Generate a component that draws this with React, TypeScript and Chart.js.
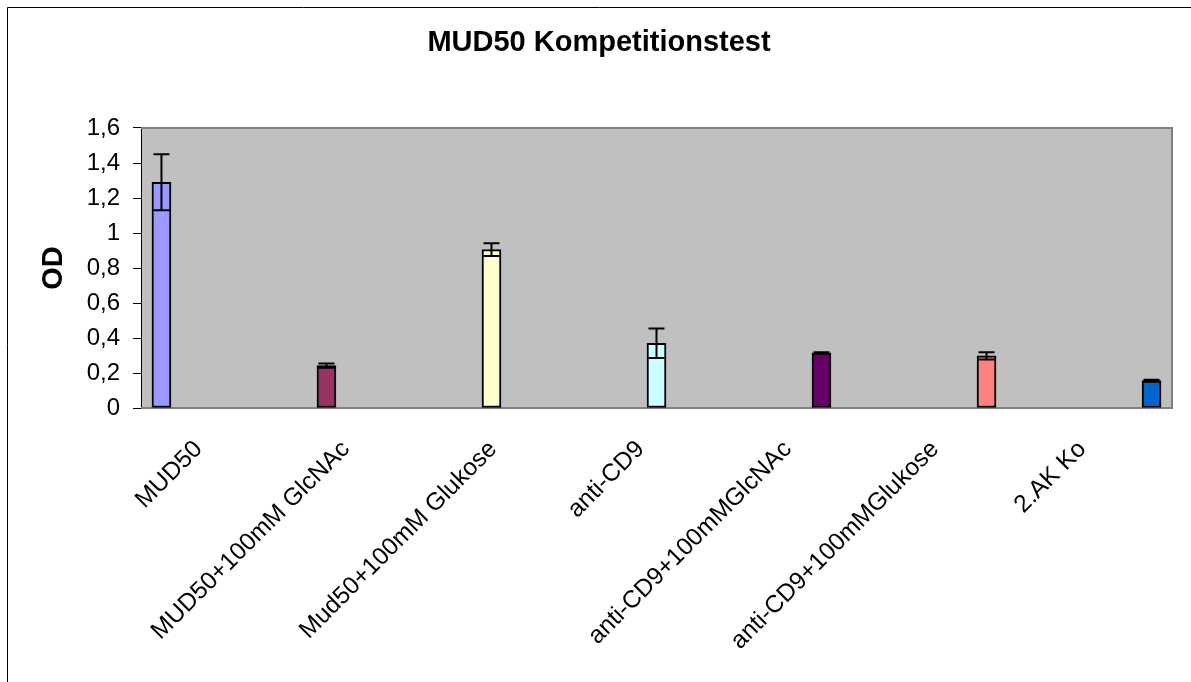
import React, { useEffect, useRef } from 'react';
import { Chart, registerables } from 'chart.js';

Chart.register(...registerables);

const categories = [
  'MUD50',
  'MUD50+100mM GlcNAc',
  'Mud50+100mM Glukose',
  'anti-CD9',
  'anti-CD9+100mMGlcNAc',
  'anti-CD9+100mMGlukose',
  '2.AK Ko',
];
const odValues = [1.29, 0.242, 0.905, 0.37, 0.315, 0.298, 0.156];
const odErrors = [0.16, 0.012, 0.036, 0.084, 0.003, 0.021, 0.006];
const barColors = ['#9999FF', '#993366', '#FFFFCC', '#CCFFFF', '#660066', '#FF8080', '#0066CC'];
const yTickValues = [0, 0.2, 0.4, 0.6, 0.8, 1, 1.2, 1.4, 1.6];
const yTickLabels = ['0', '0,2', '0,4', '0,6', '0,8', '1', '1,2', '1,4', '1,6'];

const FONT = '"Liberation Sans", Arial, Helvetica, sans-serif';

const framePlugin = {
  id: 'frame',
  beforeDraw(chart: any) {
    const { ctx, width, height, chartArea } = chart;
    ctx.save();
    ctx.fillStyle = '#ffffff';
    ctx.fillRect(0, 0, width, height);
    ctx.strokeStyle = '#000000';
    ctx.lineWidth = 1;
    ctx.beginPath();
    ctx.moveTo(0.5, height);
    ctx.lineTo(0.5, 0.5);
    ctx.lineTo(width, 0.5);
    ctx.stroke();
    ctx.fillStyle = '#C0C0C0';
    ctx.fillRect(chartArea.left, chartArea.top, chartArea.right - chartArea.left, chartArea.bottom - chartArea.top);
    ctx.restore();
  },
  beforeDatasetsDraw(chart: any) {
    const { ctx, chartArea } = chart;
    ctx.save();
    ctx.strokeStyle = '#808080';
    ctx.lineWidth = 2;
    ctx.beginPath();
    ctx.moveTo(chartArea.left, chartArea.top);
    ctx.lineTo(chartArea.right, chartArea.top);
    ctx.lineTo(chartArea.right, chartArea.bottom);
    ctx.lineTo(chartArea.left, chartArea.bottom);
    ctx.stroke();
    ctx.restore();
  },
};

const errorBarPlugin = {
  id: 'errorBars',
  afterDatasetsDraw(chart: any) {
    const meta = chart.getDatasetMeta(0);
    const yScale = chart.scales.y;
    const ctx = chart.ctx;
    ctx.save();
    ctx.strokeStyle = '#000000';
    ctx.lineWidth = 2;
    meta.data.forEach((bar: any, i: number) => {
      const v = odValues[i];
      const e = odErrors[i];
      const yt = yScale.getPixelForValue(v + e);
      const yb = yScale.getPixelForValue(v - e);
      const x = bar.x;
      ctx.beginPath();
      ctx.moveTo(x, yt);
      ctx.lineTo(x, yb);
      ctx.moveTo(x - 8, yt);
      ctx.lineTo(x + 8, yt);
      ctx.moveTo(x - 8, yb);
      ctx.lineTo(x + 8, yb);
      ctx.stroke();
    });
    ctx.restore();
  },
};

export default function App() {
  const canvasRef = useRef<HTMLCanvasElement | null>(null);

  useEffect(() => {
    const canvas = canvasRef.current;
    if (!canvas) return;
    const chart = new Chart(canvas, {
      type: 'bar',
      data: {
        labels: categories,
        datasets: [
          {
            label: 'OD',
            data: odValues.map((v, i) => ({ x: i, y: v })) as any,
            xAxisID: 'xb',
            yAxisID: 'y',
            backgroundColor: barColors,
            borderColor: '#000000',
            borderWidth: 2,
            borderSkipped: false,
            barThickness: 19,
          },
        ],
      },
      plugins: [framePlugin, errorBarPlugin],
      options: {
        responsive: false,
        animation: false,
        devicePixelRatio: 1,
        layout: { padding: { left: 0, right: 0, top: 0, bottom: 0 } },
        plugins: {
          legend: { display: false },
          tooltip: { enabled: false },
          title: {
            display: true,
            text: 'MUD50 Kompetitionstest',
            color: '#000000',
            font: { family: FONT, size: 29, weight: 'bold' },
            padding: { top: 18.9, bottom: 67.3 },
          },
        },
        scales: {
          x: {
            type: 'category',
            labels: categories,
            position: 'bottom',
            offset: true,
            grid: { display: false, drawTicks: false },
            border: { display: false },
            ticks: {
              autoSkip: false,
              minRotation: 45,
              maxRotation: 45,
              padding: 27,
              labelOffset: -16,
              color: '#000000',
              font: { family: FONT, size: 24.5 },
            },
            afterFit: (scale: any) => {
              scale.height = 274;
            },
          },
          xb: {
            type: 'linear',
            axis: 'x',
            position: 'bottom',
            display: false,
            offset: false,
            min: -0.124,
            max: 6.124,
          },
          y: {
            type: 'linear',
            position: 'left',
            min: 0,
            max: 1.6,
            afterBuildTicks: (scale: any) => {
              scale.ticks = yTickValues.map((v) => ({ value: v }));
            },
            ticks: {
              padding: 13,
              color: '#000000',
              font: { family: FONT, size: 24 },
              callback: (_v: any, idx: number) => yTickLabels[idx],
            },
            grid: {
              drawOnChartArea: false,
              drawTicks: true,
              tickLength: 8,
              color: '#000000',
              lineWidth: 1,
            },
            border: { display: true, color: '#000000', width: 1 },
            title: {
              display: true,
              text: 'OD',
              color: '#000000',
              font: { family: FONT, size: 29, weight: 'bold' },
              padding: { top: 30, bottom: 0 },
            },
            afterFit: (scale: any) => {
              scale.width = 134;
            },
          },
          yr: {
            type: 'linear',
            axis: 'y',
            position: 'right',
            display: true,
            grid: { display: false, drawTicks: false },
            border: { display: false },
            ticks: { display: false },
            afterFit: (scale: any) => {
              scale.width = 19;
            },
          },
        },
      } as any,
    });
    return () => chart.destroy();
  }, []);

  return (
    <div style={{ position: 'fixed', left: 7, top: 7, width: 1184, height: 675, overflow: 'hidden' }}>
      <canvas ref={canvasRef} width={1184} height={675} style={{ display: 'block' }} />
    </div>
  );
}
